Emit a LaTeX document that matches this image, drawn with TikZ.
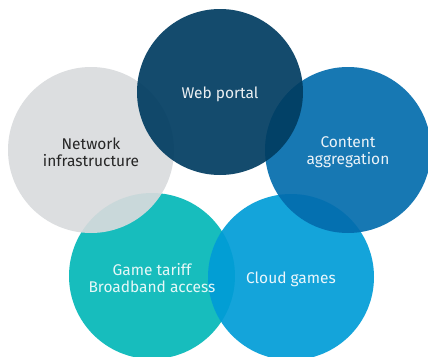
\documentclass[tikz,border=0pt]{standalone}
\usepackage{fontspec}
\setmainfont{Fira Sans}
\definecolor{webblue}{RGB}{0,60,97}
\definecolor{netgray}{RGB}{217,219,221}
\definecolor{contblue}{RGB}{3,108,173}
\definecolor{gameteal}{RGB}{3,183,183}
\definecolor{cloudblue}{RGB}{0,156,215}
\tikzset{
	bubble/.style={circle,minimum size=166pt,inner sep=0pt,
		fill opacity=0.92,text opacity=1},
	label/.style={align=center,font=\fontsize{15.5}{17}\selectfont}
}
\newcommand{\Bubble}[4]{
	\node[bubble,fill=#4] (#1) at (#2,#3) {};
}
\begin{document}
\begin{tikzpicture}[x=1pt,y=-1pt]
\useasboundingbox (0,0) rectangle (428,356);
%circles
\Bubble{game}{152}{276}{gameteal}
\Bubble{cloud}{291}{277}{cloudblue}
\Bubble{cont}{348}{150}{contblue}
\Bubble{net}{91}{150}{netgray}
\Bubble{web}{220}{92}{webblue}
%labels
\node[label,white!92!webblue] at ([yshift=-2pt]web.center) {Web portal};
\node[label,black!85] at ([yshift=-2pt]net.center) {Network\\infrastructure};
\node[label,white!92!contblue] at ([yshift=-2pt]cont.center) {Content\\aggregation};
\node[label,white!90!gameteal] at ([yshift=-2pt]game.center) {Game tariff\\Broadband access};
\node[label,white!92!cloudblue] at ([yshift=-2.5pt]cloud.center) {Cloud games};
\end{tikzpicture}
\end{document}
